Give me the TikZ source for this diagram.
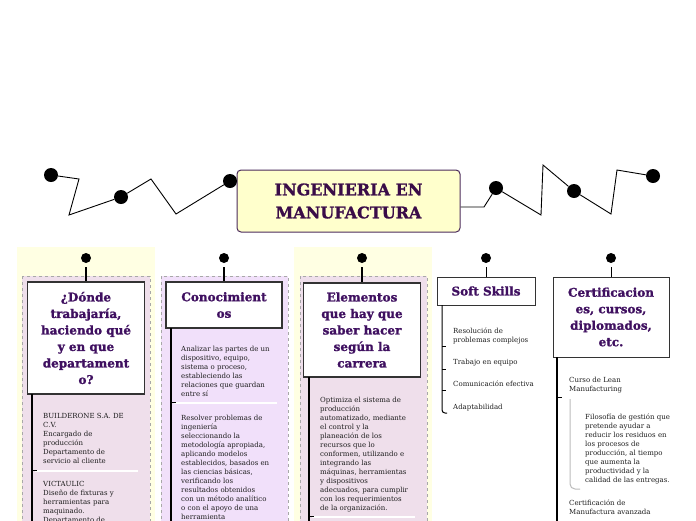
\documentclass[tikz,border=0pt]{standalone}
\usepackage{fontspec}
\setmainfont{DejaVu Serif}
\newfontfamily\headfont[BoldFeatures={FakeBold=1.3}]{DejaVu Serif}
\usetikzlibrary{calc}
\definecolor{hpurple}{HTML}{3F1060}
\definecolor{tpurple}{HTML}{3A0C48}
\definecolor{tborder}{HTML}{4B2B5B}
\definecolor{tfill}{HTML}{FFFFCC}
\definecolor{ybg}{HTML}{FFFFE3}
\definecolor{pinkfill}{HTML}{EFDFEB}
\definecolor{lavfill}{HTML}{F1E0FA}
\definecolor{dashgray}{HTML}{A8A8A8}
\definecolor{boxborder}{HTML}{333333}
\definecolor{subgray}{HTML}{BBBBBB}
\definecolor{bodytext}{HTML}{1E1E1E}
\begin{document}
\begin{tikzpicture}[x=1pt,y=-1pt,
 bigdot/.style={circle,fill=black,inner sep=0,minimum size=14pt},
 smalldot/.style={circle,fill=black,inner sep=0,minimum size=10pt},
 zig/.style={black,line width=0.9pt},
 head/.style={draw=boxborder,line width=1.2pt,fill=white,align=center,text=hpurple,font=\headfont\bfseries\fontsize{12}{16.5}\selectfont,inner sep=0},
 body/.style={anchor=north west,align=left,inner sep=0,text=bodytext,font=\fontsize{7}{9}\selectfont},
 branch/.style={line width=1.2pt,black},
 tick/.style={line width=0.8pt,black},
 sep/.style={white,line width=1.5pt},
 band/.style={draw=dashgray,dashed,line width=0.6pt},
 conn/.style={line width=1.2pt,black,shorten <=4pt},
]
\useasboundingbox (0,0) rectangle (696,520);
\clip (0,0) rectangle (696,520);

% backgrounds
\fill[ybg] (17,247) rectangle (155,530);
\fill[ybg] (294,247) rectangle (432,530);
\filldraw[band,fill=pinkfill] (22,276) rectangle (150,530);
\filldraw[band,fill=lavfill] (161,276) rectangle (288,530);
\filldraw[band,fill=pinkfill] (300,276) rectangle (427,530);

% title
\node[draw=tborder,line width=1pt,fill=tfill,rounded corners=4pt,minimum width=223pt,minimum height=62pt,align=center,text=tpurple,font=\headfont\bfseries\fontsize{16}{23}\selectfont] (title) at (348.5,201) {INGENIERIA EN\\MANUFACTURA};

% zigzag dots
\node[bigdot] (L1) at (51,175) {};
\node[bigdot] (L2) at (121,197) {};
\node[bigdot] (L3) at (230,181) {};
\node[bigdot] (R1) at (496,188) {};
\node[bigdot] (R2) at (574,191) {};
\node[bigdot] (R3) at (653,176) {};
\draw[zig] (L1) -- (79,179) -- (69,215) -- (L2);
\draw[zig] (L2) -- (151,179) -- (176,214) -- (L3);
\draw[zig] ($(title.east)+(0,6)$) -- (484,207) -- (491,196) -- (R1);
\draw[zig] (R1) -- (541,215) -- (543,165) -- (R2);
\draw[zig] (R2) -- (611,214) -- (617,170) -- (R3);

% column dots
\node[smalldot] (c1) at (86,258) {};
\node[smalldot] (c2) at (224,258) {};
\node[smalldot] (c3) at (362,258) {};
\node[smalldot] (c4) at (486,258) {};
\node[smalldot] (c5) at (611,258) {};

% headers
\node[head,minimum width=117pt,minimum height=112pt] (h1) at (86,338) {¿Dónde\\trabajaría,\\haciendo qué\\y en que\\departament\\o?};
\node[head,minimum width=116pt,minimum height=46pt] (h2) at (224,305) {Conocimient\\os};
\node[head,minimum width=117pt,minimum height=94pt] (h3) at (362,330) {Elementos\\que hay que\\saber hacer\\según la\\carrera};
\node[head,line width=1pt,minimum width=98pt,minimum height=28pt] (h4) at (486,291) {Soft Skills};
\node[head,line width=1pt,minimum width=116pt,minimum height=80pt] (h5) at (611,317) {Certificacion\\es, cursos,\\diplomados,\\etc.};

\draw[conn] (c1) -- (h1);
\draw[conn] (c2) -- (h2);
\draw[conn] (c3) -- (h3);
\draw[conn,line width=0.9pt] (c4) -- (h4);
\draw[conn,line width=0.9pt] (c5) -- (h5);

% column 1
\draw[branch] (32,394) -- (32,530);
\draw[sep] (35,471) -- (138,471);
\draw[tick] (32,470) -- (37,470);
\node[body] (t11) at (43,412.7) {BUILDERONE S.A. DE\\C.V.\\Encargado de\\producción\\Departamento de\\servicio al cliente};
\node[body] (t12) at (43,480.7) {VICTAULIC\\Diseño de fixturas y\\herramientas para\\maquinado.\\Departamento de};

% column 2
\draw[branch] (171,328) -- (171,530);
\draw[sep] (174,403) -- (277,403);
\draw[tick] (171,402) -- (176,402);
\node[body] (t21) at (181,345.7) {Analizar las partes de un\\dispositivo, equipo,\\sistema o proceso,\\estableciendo las\\relaciones que guardan\\entre sí};
\node[body] (t22) at (181,414.7) {Resolver problemas de\\ingeniería\\seleccionando la\\metodología apropiada,\\aplicando modelos\\establecidos, basados en\\las ciencias básicas,\\verificando los\\resultados obtenidos\\con un método analítico\\o con el apoyo de una\\herramienta};

% column 3
\draw[branch] (309,377) -- (309,530);
\draw[sep] (312,517) -- (415,517);
\draw[tick] (309,516) -- (314,516);
\node[body] (t31) at (320,396.7) {Optimiza el sistema de\\producción\\automatizado, mediante\\el control y la\\planeación de los\\recursos que lo\\conformen, utilizando e\\integrando las\\máquinas, herramientas\\y dispositivos\\adecuados, para cumplir\\con los requerimientos\\de la organización.};

% column 4
\draw[line width=1pt,rounded corners=3pt] (442,305) -- (442,413) -- (447,413);
\draw[tick] (442,346) -- (446,346);
\draw[tick] (442,369) -- (446,369);
\draw[tick] (442,390) -- (446,390);
\node[body] (t41) at (453,327.7) {Resolución de\\problemas complejos};
\node[body] (t42) at (453,358.7) {Trabajo en equipo};
\node[body] (t43) at (453,380.7) {Comunicación efectiva};
\node[body] (t44) at (453,403.7) {Adaptabilidad};

% column 5
\draw[branch] (557,357) -- (557,530);
\draw[tick] (557,397) -- (562,397);
\draw[subgray,line width=1pt,rounded corners=5pt] (570,399) -- (570,489) -- (580,489);
\node[body] (t51) at (569,376.7) {Curso de Lean\\Manufacturing};
\node[body] (t52) at (585,413.7) {Filosofía de gestión que\\pretende ayudar a\\reducir los residuos en\\los procesos de\\producción, al tiempo\\que aumenta la\\productividad y la\\calidad de las entregas.};
\node[body] (t53) at (569,499.7) {Certificación de\\Manufactura avanzada};
\end{tikzpicture}
\end{document}
